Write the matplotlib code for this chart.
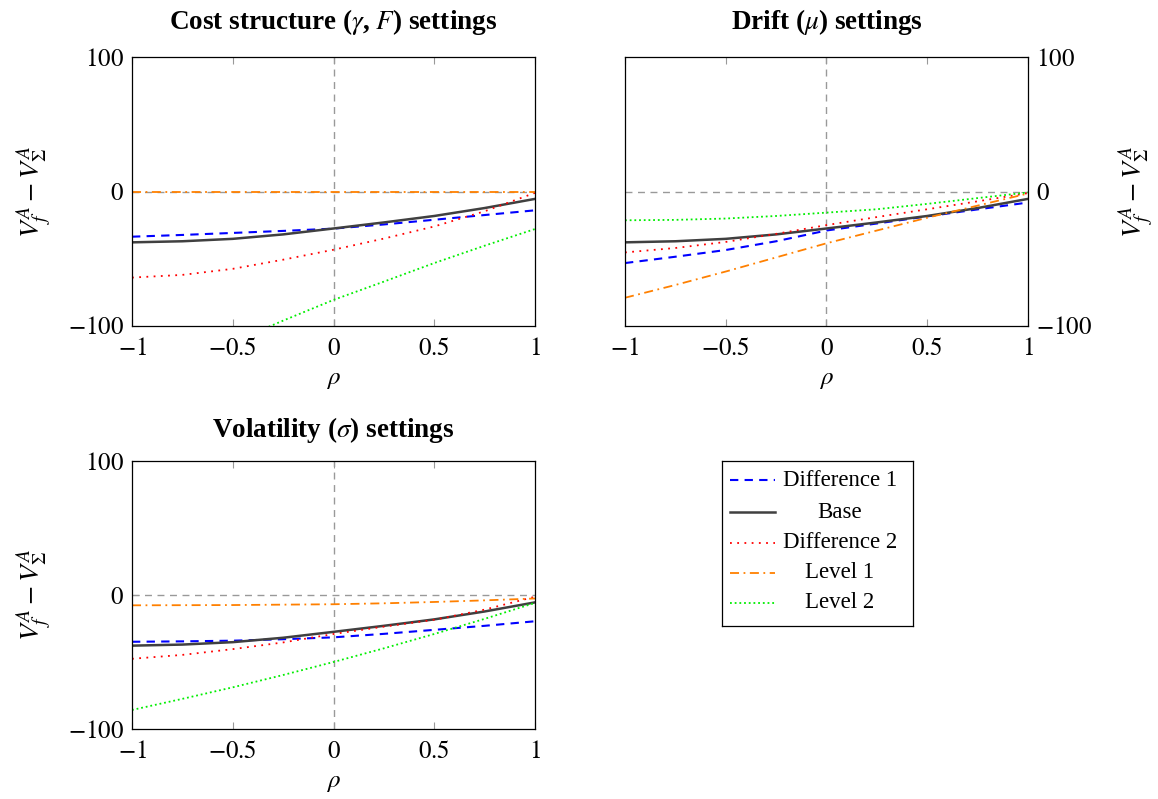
import numpy as np
import matplotlib
matplotlib.use("Agg")
import matplotlib.pyplot as plt

plt.rcParams['font.family'] = ['Liberation Serif', 'DejaVu Serif']
plt.rcParams['mathtext.fontset'] = 'stix'
plt.rcParams['font.size'] = 18

# correlation grid
rho = [-1.0, -0.75, -0.5, -0.25, 0.0, 0.25, 0.5, 0.75, 1.0]

# base case (same in every panel)
base = [-37.8, -37.0, -35.2, -31.9, -27.5, -23.0, -18.2, -12.3, -5.5]

# cost structure (gamma, F) settings
cost_diff1 = [-33.6, -32.3, -30.8, -29.3, -27.6, -24.5, -21.0, -17.5, -14.0]
cost_diff2 = [-64.0, -62.0, -57.5, -50.7, -43.3, -35.0, -26.0, -14.7, -1.0]
cost_lvl1 = [0.0, 0.0, 0.0, 0.0, 0.0, 0.0, 0.0, 0.0, 0.0]
cost_lvl2 = [-147.0, -129.0, -112.0, -96.0, -80.6, -67.0, -53.2, -40.3, -27.9]

# drift (mu) settings
drift_diff1 = [-53.2, -48.5, -43.5, -37.0, -29.0, -23.8, -18.5, -13.3, -8.2]
drift_diff2 = [-45.3, -42.0, -37.5, -31.5, -25.0, -19.0, -13.2, -7.3, -1.2]
drift_lvl1 = [-79.0, -69.5, -59.5, -49.0, -38.5, -29.0, -19.5, -10.5, -1.5]
drift_lvl2 = [-21.4, -21.1, -20.1, -18.2, -15.7, -13.2, -9.2, -4.9, -0.7]

# volatility (sigma) settings
vol_diff1 = [-34.9, -34.6, -34.1, -33.0, -31.6, -29.0, -26.0, -23.0, -19.6]
vol_diff2 = [-47.6, -44.7, -40.4, -35.4, -29.1, -23.6, -18.5, -10.9, -1.3]
vol_lvl1 = [-7.7, -7.6, -7.5, -7.2, -6.9, -6.2, -5.2, -4.0, -2.6]
vol_lvl2 = [-85.8, -77.5, -68.9, -59.7, -50.0, -39.8, -29.1, -17.8, -5.9]

series_names = ['Difference 1', 'Base', 'Difference 2', 'Level 1', 'Level 2']
panel_titles = [r'Cost structure ($\gamma$, $F$) settings',
                r'Drift ($\mu$) settings',
                r'Volatility ($\sigma$) settings']
xticks = [-1, -0.5, 0, 0.5, 1]
xtick_labels = [r'$-1$', r'$-0.5$', r'$0$', r'$0.5$', r'$1$']
yticks = [-100, 0, 100]
ytick_labels = [r'$-100$', r'$0$', r'$100$']

styles = [
    dict(color='#0000ff', lw=1.5, linestyle=(0, (4, 3))),
    dict(color='#404040', lw=1.8, linestyle='-'),
    dict(color='#ff0000', lw=1.3, linestyle=(0, (1, 3))),
    dict(color='#ff8000', lw=1.3, linestyle=(0, (5, 2.5, 1, 2.5))),
    dict(color='#00ee00', lw=1.3, linestyle=(0, (1, 1.6))),
]

panels = [
    [cost_diff1, base, cost_diff2, cost_lvl1, cost_lvl2],
    [drift_diff1, base, drift_diff2, drift_lvl1, drift_lvl2],
    [vol_diff1, base, vol_diff2, vol_lvl1, vol_lvl2],
]

fig = plt.figure(figsize=(11.58, 7.99), dpi=100)
W, H = 1158, 799
boxes = [(132, 57, 535, 326), (625, 57, 1028, 326), (132, 461, 535, 729)]
title_pads = [20, 20, 17]
ylab = r'$V_f^A - V_\Sigma^A$'

for k, (x0, y0, x1, y1) in enumerate(boxes):
    ax = fig.add_axes([x0 / W, 1 - y1 / H, (x1 - x0) / W, (y1 - y0) / H])
    ax.axhline(0, color='#999999', lw=1.0, linestyle=(0, (5, 4)), zorder=1)
    ax.axvline(0, color='#999999', lw=1.0, linestyle=(0, (5, 4)), zorder=1)
    for vals, st in zip(panels[k], styles):
        ax.plot(rho, vals, zorder=2, **st)
    ax.set_xlim(-1, 1)
    ax.set_ylim(-100, 100)
    ax.set_xticks(xticks)
    ax.set_xticklabels(xtick_labels)
    ax.set_yticks(yticks)
    ax.set_yticklabels(ytick_labels)
    ax.tick_params(direction='in', length=5, color='#999999', top=True)
    ax.tick_params(axis='x', pad=9)
    ax.tick_params(axis='y', pad=6)
    for s in ax.spines.values():
        s.set_linewidth(0.9)
    ax.set_xlabel(r'$\rho$', labelpad=6)
    ax.set_title(panel_titles[k], fontweight='bold', fontsize=19.5,
                 pad=title_pads[k])
    if k == 1:
        ax.yaxis.tick_right()
        ax.yaxis.set_label_position('right')
        ax.tick_params(axis='y', left=False, right=True, direction='in')
        ax.set_ylabel(ylab, fontsize=20, labelpad=17)
    else:
        ax.set_ylabel(ylab, fontsize=20, labelpad=10)

# legend box with centred entry text
lx0, ly0, lx1, ly1 = 722, 461, 913, 626
lax = fig.add_axes([lx0 / W, 1 - ly1 / H, (lx1 - lx0) / W, (ly1 - ly0) / H])
lax.set_xlim(0, lx1 - lx0)
lax.set_ylim(ly1 - ly0, 0)
lax.set_xticks([])
lax.set_yticks([])
for s in lax.spines.values():
    s.set_linewidth(0.9)
row_y = [19, 51, 82, 112, 142]
for name, st, yy in zip(series_names, styles, row_y):
    lax.plot([8, 53], [yy, yy], **st)
    lax.text(118, yy, name, ha='center', va='center', fontsize=16.5)

fig.savefig('out.png', dpi=100)
